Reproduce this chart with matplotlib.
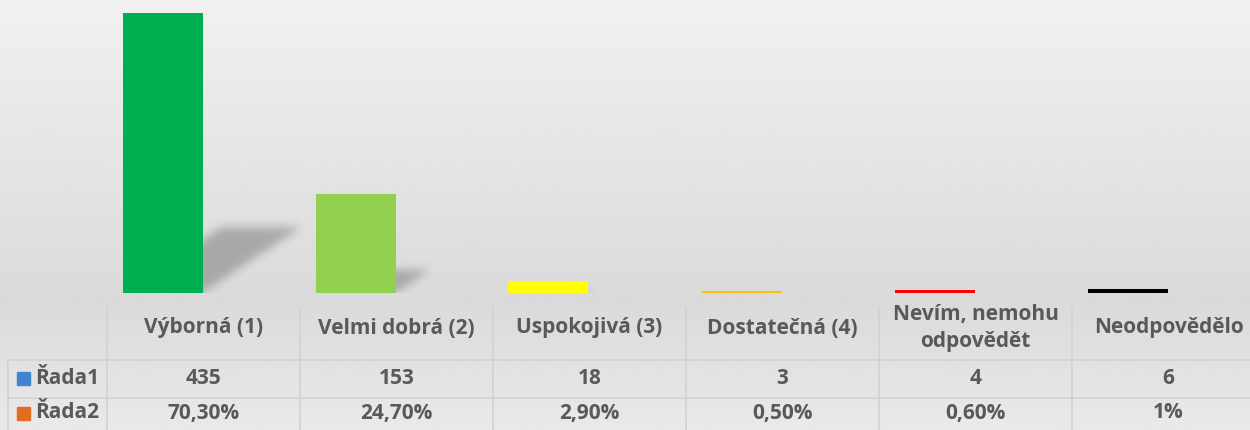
import matplotlib
matplotlib.use("Agg")
import matplotlib.pyplot as plt
from matplotlib.path import Path
import numpy as np

# data
categories = ["Výborná (1)", "Velmi dobrá (2)", "Uspokojivá (3)", "Dostatečná (4)",
              "Nevím, nemohu\nodpovědět", "Neodpovědělo"]
rada1 = [435, 153, 18, 3, 4, 6]
rada2 = ["70,30%", "24,70%", "2,90%", "0,50%", "0,60%", "1%"]
series_names = ["Řada1", "Řada2"]
bar_colors = ["#00B050", "#92D050", "#FFFF00", "#FFC000", "#FF0000", "#000000"]
key_colors = ["#3F84D2", "#E46C1F"]

W, H = 1250, 430
txt_col = "#595959"
font = "Open Sans"
fs = 15

fig = plt.figure(figsize=(W / 100, H / 100), dpi=100)

# background gradient
bg = fig.add_axes([0, 0, 1, 1], zorder=0)
yy = np.linspace(0, 1, 300)
shade = np.interp(yy, [0, 0.7, 1.0], [0.945, 0.855, 0.915])
bg.imshow(np.repeat(shade[:, None], 2, axis=1), cmap="gray", vmin=0, vmax=1,
          aspect="auto", extent=[0, 1, 0, 1], origin="upper")
bg.set_xlim(0, 1)
bg.set_ylim(0, 1)
bg.axis("off")

# bars
col_left, col_w = 107, 193     # table column geometry in px
base_px = 293                  # baseline in px from top
ymax = 455
x_lo = (0 - col_left) / col_w - 0.5
x_hi = (W - col_left) / col_w - 0.5
ax = fig.add_axes([0, (H - base_px) / H, 1, base_px / H], zorder=2)
ax.patch.set_alpha(0)
ax.set_xlim(x_lo, x_hi)
ax.set_ylim(0, ymax)
ax.axis("off")

x = np.arange(len(categories))
offset = -41 / col_w
bw = 80 / col_w
ax.bar(x + offset, rada1, width=bw, color=bar_colors, zorder=3)

# soft diagonal shadows behind bars
px_per_val = base_px / ymax
gx = np.linspace(x_lo, x_hi, W)
gy = np.linspace(0, ymax, base_px)
GX, GY = np.meshgrid(gx, gy)
pts = np.column_stack([GX.ravel(), GY.ravel()])
mask = np.zeros(GX.shape)
for xi, v in zip(x, rada1):
    x0, x1 = xi + offset - bw / 2, xi + offset + bw / 2
    hs = 0.233 * v
    dx = 1.5 * hs * px_per_val / col_w
    poly = Path([(x0, 0), (x1, 0), (x1 + dx, hs), (x0 + dx, hs), (x0, 0)])
    mask = np.maximum(mask, poly.contains_points(pts).reshape(GX.shape).astype(float))
k = np.exp(-0.5 * (np.arange(-12, 13) / 4.5) ** 2)
k /= k.sum()
mask = np.apply_along_axis(lambda r: np.convolve(r, k, mode="same"), 1, mask)
mask = np.apply_along_axis(lambda c: np.convolve(c, k, mode="same"), 0, mask)
rgba = np.zeros(GX.shape + (4,))
rgba[..., 3] = mask * 0.24
ax.imshow(rgba, extent=[x_lo, x_hi, 0, ymax], origin="lower", aspect="auto", zorder=1)

# data table
tb = fig.add_axes([0, 0, 1, 1], zorder=3)
tb.patch.set_alpha(0)
tb.set_xlim(0, W)
tb.set_ylim(H, 0)
tb.axis("off")
lc = "#d2d2d2"
tb.plot([8, W], [360, 360], color=lc, lw=1.2)
tb.plot([8, W], [398, 398], color=lc, lw=1.2)
tb.plot([8, 8], [360, H], color=lc, lw=1.2)
for i in range(len(categories)):
    xl = col_left + col_w * i
    tb.plot([xl, xl], [308, H], color=lc, lw=1.2)
    xc = xl + col_w / 2
    tb.text(xc, 328, categories[i], ha="center", va="center", fontsize=fs,
            fontweight="bold", color=txt_col, family=font, linespacing=1.38)
    tb.text(xc, 378, str(rada1[i]), ha="center", va="center", fontsize=fs,
            fontweight="bold", color=txt_col, family=font)
    tb.text(xc, 413, rada2[i], ha="center", va="center", fontsize=fs,
            fontweight="bold", color=txt_col, family=font)

for name, kc, yc in zip(series_names, key_colors, [378, 413]):
    tb.add_patch(plt.Rectangle((17, yc - 6.5), 13, 13, color=kc))
    tb.text(35, yc, name, ha="left", va="center", fontsize=fs,
            fontweight="bold", color=txt_col, family=font)

fig.savefig("out.png", dpi=100)
